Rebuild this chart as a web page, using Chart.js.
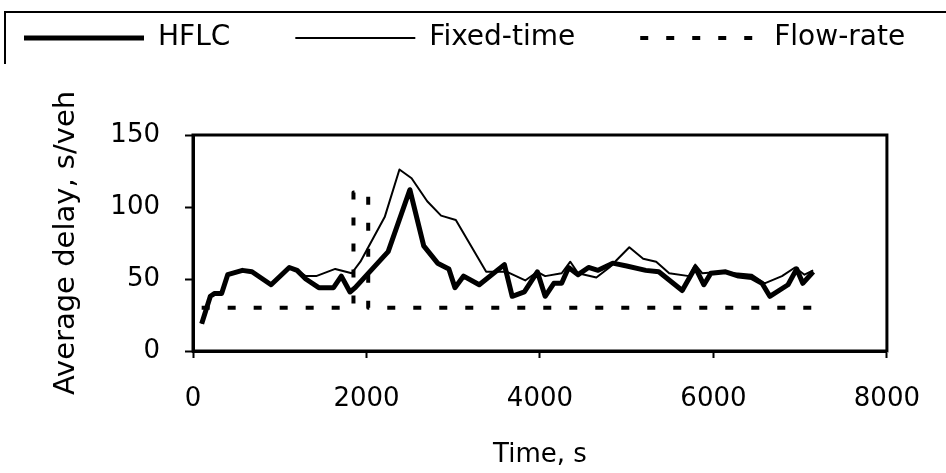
<!DOCTYPE html>
<html>
<head>
<meta charset="utf-8">
<script src="https://cdn.jsdelivr.net/npm/chart.js@4/dist/chart.umd.min.js"></script>
<style>
  html, body { margin: 0; padding: 0; background: #fff; }
  #wrap { width: 946px; height: 473px; }
</style>
</head>
<body>
<div id="wrap"><canvas id="c" width="946" height="473"></canvas></div>
<script>
// Simulation time (s) and average delay (s/veh) for each controller
const hflcTime  = [100, 200, 250, 330, 400, 570, 680, 900, 1110, 1200, 1300, 1450, 1620, 1710, 1810, 1870, 2250, 2500, 2660, 2820, 2950, 3020, 3120, 3300, 3590, 3680, 3820, 3970, 4060, 4160, 4250, 4330, 4440, 4560, 4670, 4840, 5000, 5220, 5370, 5640, 5790, 5890, 5970, 6140, 6290, 6440, 6560, 6650, 6860, 6960, 7030, 7150];
const hflcDelay = [19, 38, 40, 40, 53, 56, 55, 46, 58, 56, 50, 44, 44, 52, 41, 44, 69, 112, 73, 61, 57, 44, 52, 46, 60, 38, 41, 55, 38, 47, 47, 58, 53, 58, 56, 61, 59, 56, 55, 42, 58, 46, 54, 55, 52, 51, 47, 38, 46, 57, 47, 55];

const fixedTime  = [100, 200, 250, 330, 400, 570, 680, 900, 1110, 1200, 1300, 1420, 1640, 1830, 1930, 2210, 2380, 2520, 2700, 2860, 3030, 3380, 3620, 3830, 3970, 4060, 4250, 4350, 4440, 4650, 4800, 5030, 5190, 5340, 5490, 5720, 5790, 5870, 6100, 6250, 6440, 6590, 6790, 6940, 7050, 7150];
const fixedDelay = [19, 38, 40, 40, 53, 56, 55, 46, 58, 56, 52, 52, 57, 54, 62, 93, 126, 120, 104, 94, 91, 55, 55, 49, 55, 52, 54, 62, 54, 51, 58, 72, 64, 62, 54, 52, 60, 54, 55, 54, 53, 47, 52, 58, 53, 56];

const flowTime  = [100, 1850, 1850, 2020, 2020, 7200];
const flowDelay = [30, 30, 110, 110, 30, 30];

const seriesNames = ['HFLC', 'Fixed-time', 'Flow-rate'];
const xTicks = [0, 2000, 4000, 6000, 8000];
const yTicks = [0, 50, 100, 150];

const toPoints = (xs, ys) => xs.map((x, i) => ({ x: x, y: ys[i] }));

const FONT = "'DejaVu Sans', sans-serif";
const LEGEND_HEIGHT = 176;

// Legend strip sizing/frame and the box around the plotting area
const frames = {
  id: 'frames',
  beforeLayout(chart) {
    const lg = chart.legend;
    if (lg && !lg._fixedHeight) {
      const fit = lg.fit;
      lg.fit = function () {
        const mw = this.maxWidth;
        this.maxWidth = 5000;          // keep all three entries on one row
        fit.call(this);
        this.maxWidth = mw;
        this.height = LEGEND_HEIGHT;
      };
      lg._fixedHeight = true;
    }
  },
  afterLayout(chart) {
    if (chart.legend) chart.legend.right = chart.width + 400;
  },
  afterDraw(chart) {
    const { ctx, chartArea: a } = chart;
    ctx.save();
    ctx.strokeStyle = '#000';
    ctx.lineWidth = 3;
    ctx.strokeRect(a.left, a.top, a.right - a.left, a.bottom - a.top);
    ctx.lineWidth = 2;
    ctx.beginPath();
    ctx.moveTo(5, 64);
    ctx.lineTo(5, 12);
    ctx.lineTo(chart.width, 12);
    ctx.stroke();
    ctx.restore();
  }
};

new Chart(document.getElementById('c'), {
  type: 'line',
  data: {
    datasets: [
      { label: seriesNames[0], data: toPoints(hflcTime, hflcDelay), borderColor: '#000', borderWidth: 5 },
      { label: seriesNames[1], data: toPoints(fixedTime, fixedDelay), borderColor: '#000', borderWidth: 2 },
      { label: seriesNames[2], data: toPoints(flowTime, flowDelay), borderColor: '#000', borderWidth: 4, borderDash: [8, 18] }
    ]
  },
  options: {
    responsive: false,
    animation: false,
    devicePixelRatio: 1,
    layout: { padding: { top: -41, right: 53, left: -41, bottom: 0 } },
    elements: {
      point: { radius: 0, hoverRadius: 0 },
      line: { tension: 0, fill: false, borderCapStyle: 'butt', borderJoinStyle: 'round' }
    },
    plugins: {
      tooltip: { enabled: false },
      legend: {
        display: true,
        position: 'top',
        align: 'start',
        labels: {
          usePointStyle: true,
          pointStyle: 'line',
          pointStyleWidth: 120,
          padding: 65,
          color: '#000',
          font: { family: FONT, size: 28 },
          generateLabels(chart) {
            const items = Chart.defaults.plugins.legend.labels.generateLabels(chart);
            items.forEach(it => {
              const ds = chart.data.datasets[it.datasetIndex];
              it.lineWidth = ds.borderWidth;
              it.lineDash = ds.borderDash || [];
              it.strokeStyle = ds.borderColor;
            });
            return items;
          }
        }
      }
    },
    scales: {
      x: {
        type: 'linear',
        min: 0, max: 8000,
        afterFit(s) { s.height = 122; },
        afterBuildTicks(s) { s.ticks = xTicks.map(v => ({ value: v })); },
        border: { display: true, color: '#000', width: 3 },
        grid: { drawOnChartArea: false, drawTicks: true, tickLength: 7, tickColor: '#000', tickWidth: 2 },
        ticks: { color: '#000', padding: 26, maxRotation: 0, font: { family: FONT, size: 26 }, callback: v => String(v) },
        title: { display: true, text: 'Time, s', color: '#000', padding: { top: 0, bottom: 2 }, font: { family: FONT, size: 26 } }
      },
      y: {
        type: 'linear',
        min: 0, max: 150,
        afterFit(s) { s.width = 234; },
        afterBuildTicks(s) { s.ticks = yTicks.map(v => ({ value: v })); },
        border: { display: true, color: '#000', width: 3 },
        grid: { drawOnChartArea: false, drawTicks: true, tickLength: 8, tickColor: '#000', tickWidth: 2 },
        ticks: { color: '#000', padding: 25, font: { family: FONT, size: 26 }, callback: v => String(v) },
        title: { display: true, text: 'Average delay, s/veh', color: '#000', padding: { top: 90, bottom: 0 }, font: { family: FONT, size: 29 } }
      }
    }
  },
  plugins: [frames]
});
</script>
</body>
</html>
